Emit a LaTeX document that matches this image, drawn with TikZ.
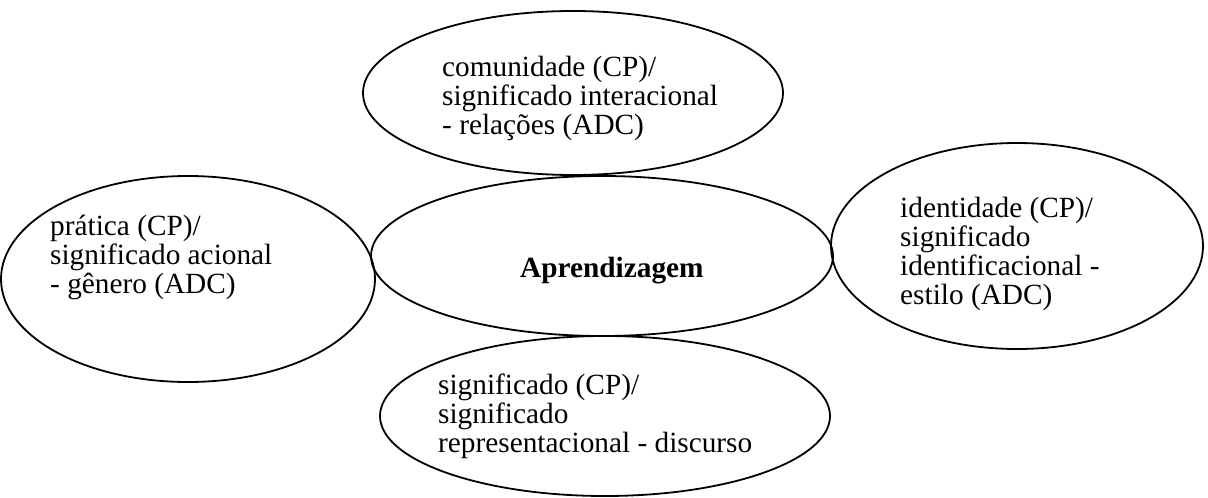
\documentclass[tikz,border=0pt]{standalone}
\usepackage{fontspec}
\setmainfont{Liberation Serif}
\usetikzlibrary{shapes.geometric}
\begin{document}
\begin{tikzpicture}[x=1pt,y=-1pt,
 oval/.style={draw, line width=1.8pt, ellipse, inner sep=0pt},
 lbl/.style={anchor=base west, align=left, inner sep=0pt, font=\fontsize{29.3}{29}\selectfont}]
\useasboundingbox (0,0) rectangle (1208,498);
\node[oval, minimum width=420pt, minimum height=164pt] (top) at (573,93) {};
\node[oval, minimum width=462pt, minimum height=160pt] (mid) at (602,256) {};
\node[oval, minimum width=374pt, minimum height=206pt] (left) at (188,279) {};
\node[oval, minimum width=372pt, minimum height=206pt] (right) at (1017,246) {};
\node[oval, minimum width=450pt, minimum height=160pt] (bot) at (605,416) {};
% anchors are at the baseline of the last line
\node[lbl] (ttop) at (442,134) {comunidade (CP)/\\significado interacional\\- relações (ADC)};
\node[lbl] (tleft) at (50,293) {prática (CP)/\\significado acional\\- gênero (ADC)};
\node[lbl] (tright) at (900,304) {identidade (CP)/\\significado\\identificacional -\\estilo (ADC)};
\node[lbl] (tbot) at (438,452) {significado (CP)/\\significado\\representacional - discurso};
\node[lbl, font=\fontsize{29.3}{29}\selectfont\bfseries] (tmid) at (520,277) {Aprendizagem};
\end{tikzpicture}
\end{document}
